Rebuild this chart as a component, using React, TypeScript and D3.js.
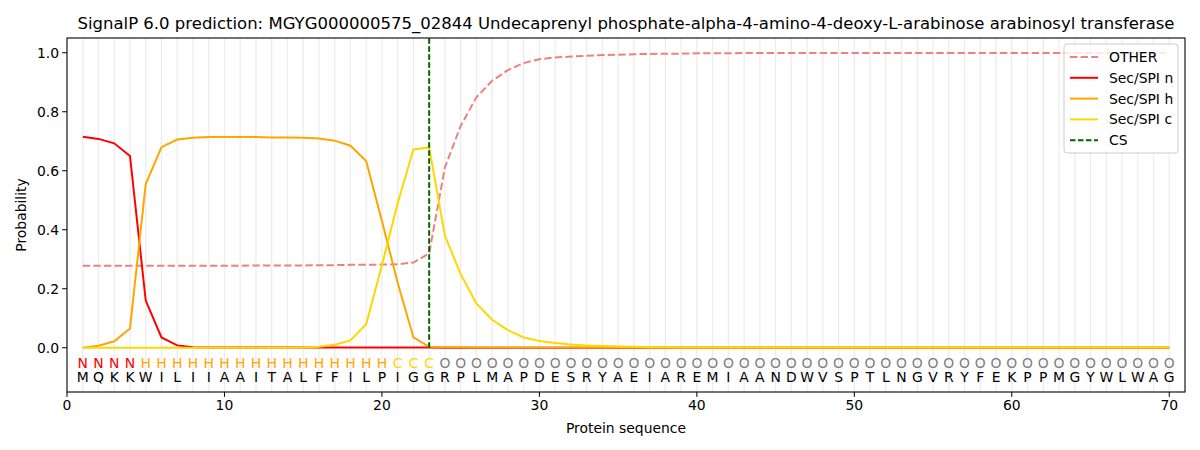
import React from "react";
import * as d3 from "d3";

const sequence = "MQKKWILIIAAITALFFILPIGGRPLMAPDESRYAEIAREMIAANDWVSPTLNGVRYFEKPPMGYWLWAG".split("");
const stateLabels = ("NNNN" + "H".repeat(16) + "CCC" + "O".repeat(47)).split("");

const otherVals = [
  0.278, 0.278, 0.278, 0.278, 0.278, 0.278, 0.278, 0.278, 0.278, 0.278,
  0.278, 0.279, 0.279, 0.279, 0.279, 0.280, 0.280, 0.281, 0.281, 0.282,
  0.283, 0.289, 0.320, 0.611, 0.752, 0.849, 0.905, 0.941, 0.965, 0.978,
  0.984, 0.987, 0.990, 0.992, 0.993, 0.995, 0.996, 0.997, 0.997, 0.998,
  0.998, 0.998, 0.999, 0.999, 0.999, 0.999, 0.999, 0.999, 0.999, 0.999,
  0.999, 0.999, 0.999, 0.999, 0.999, 0.999, 0.999, 0.999, 0.999, 0.999,
  0.999, 0.999, 0.999, 0.999, 0.999, 0.999, 0.999, 0.999, 0.999, 0.999,
];
const secN = [
  0.715, 0.708, 0.693, 0.650, 0.160, 0.035, 0.008, 0.002, 0.001, 0.001,
  0.001, 0.001, 0.001, 0.001, 0.001, 0.001, 0.001, 0.001, 0.001, 0.001,
  0.001, 0.001, 0.001, 0, 0, 0, 0, 0, 0, 0,
  0, 0, 0, 0, 0, 0, 0, 0, 0, 0,
  0, 0, 0, 0, 0, 0, 0, 0, 0, 0,
  0, 0, 0, 0, 0, 0, 0, 0, 0, 0,
  0, 0, 0, 0, 0, 0, 0, 0, 0, 0,
];
const secH = [
  0.0, 0.007, 0.022, 0.065, 0.555, 0.680, 0.706, 0.712, 0.714, 0.714,
  0.714, 0.714, 0.713, 0.713, 0.712, 0.709, 0.702, 0.685, 0.633, 0.430,
  0.220, 0.035, 0.003, 0.002, 0.002, 0.001, 0.001, 0.001, 0.001, 0.001,
  0.001, 0.001, 0.001, 0.001, 0.001, 0.001, 0.001, 0.001, 0.001, 0.001,
  0.001, 0.001, 0.001, 0.001, 0.001, 0.001, 0.001, 0.001, 0.001, 0.001,
  0.001, 0.001, 0.001, 0.001, 0.001, 0.001, 0.001, 0.001, 0.001, 0.001,
  0.001, 0.001, 0.001, 0.001, 0.001, 0.001, 0.001, 0.001, 0.001, 0.001,
];
const secC = [
  0, 0, 0, 0, 0, 0, 0, 0, 0, 0,
  0, 0, 0, 0, 0.001, 0.003, 0.010, 0.025, 0.080, 0.280,
  0.490, 0.672, 0.679, 0.380, 0.250, 0.150, 0.095, 0.060, 0.035, 0.023,
  0.016, 0.011, 0.008, 0.006, 0.004, 0.003, 0.002, 0.002, 0.001, 0.001,
  0.001, 0.001, 0.001, 0.001, 0.001, 0.001, 0.001, 0.001, 0.001, 0.001,
  0.001, 0.001, 0.001, 0.001, 0.001, 0.001, 0.001, 0.001, 0.001, 0.001,
  0.001, 0.001, 0.001, 0.001, 0.001, 0.001, 0.001, 0.001, 0.001, 0.001,
];
const csPos = 23;
const xTicks = [0, 10, 20, 30, 40, 50, 60, 70];
const yTicks = [0, 0.2, 0.4, 0.6, 0.8, 1.0];

const labelColor: Record<string, string> = { N: "red", H: "orange", C: "gold", O: "gray" };

const series = [
  { name: "OTHER", values: otherVals, color: "#f08080", dash: "7.4,3.2" },
  { name: "Sec/SPI n", values: secN, color: "red", dash: "" },
  { name: "Sec/SPI h", values: secH, color: "orange", dash: "" },
  { name: "Sec/SPI c", values: secC, color: "gold", dash: "" },
];

export default function App() {
  const W = 1200, H = 450;
  const left = 67, right = 1185, top = 38, bottom = 392;
  const x = d3.scaleLinear().domain([0, 71]).range([left, right]);
  const y = d3.scaleLinear().domain([-0.15, 1.05]).range([bottom, top]);
  const font = "DejaVu Sans, sans-serif";
  const line = (vals: number[]) =>
    d3.line<number>().x((_, i) => x(i + 1)).y((v) => y(v))(vals) || "";
  const positions = d3.range(1, sequence.length + 1);

  const legendItems = [
    ...series.map((s) => ({ name: s.name, color: s.color, dash: s.dash })),
    { name: "CS", color: "darkgreen", dash: "5.5,2.5" },
  ];
  const lx = 1064, ly = 44;

  return (
    <svg width={W} height={H} style={{ position: "absolute", left: 0, top: 0, background: "white" }} fontFamily={font}>
      <rect x={0} y={0} width={W} height={H} fill="white" />
      <text x={(left + right) / 2} y={29} textAnchor="middle" fontSize={16.5} fill="#000">
        SignalP 6.0 prediction: MGYG000000575_02844 Undecaprenyl phosphate-alpha-4-amino-4-deoxy-L-arabinose arabinosyl transferase
      </text>
      {positions.map((p) => (
        <line key={"g" + p} x1={x(p)} x2={x(p)} y1={top} y2={bottom} stroke="#ededed" strokeWidth={1.3} />
      ))}
      {series.map((s) => (
        <path key={s.name} d={line(s.values)} fill="none" stroke={s.color} strokeWidth={2} strokeDasharray={s.dash || undefined} />
      ))}
      <line x1={x(csPos)} x2={x(csPos)} y1={y(0)} y2={top} stroke="darkgreen" strokeWidth={2} strokeDasharray="5.5,2.5" />
      {positions.map((p, i) => (
        <g key={"s" + p}>
          <text x={x(p)} y={y(-0.05)} dy="0.36em" textAnchor="middle" fontSize={13.9} fill={labelColor[stateLabels[i]]}>
            {stateLabels[i]}
          </text>
          <text x={x(p)} y={y(-0.1)} dy="0.36em" textAnchor="middle" fontSize={13.9} fill="#000">
            {sequence[i]}
          </text>
        </g>
      ))}
      <rect x={left} y={top} width={right - left} height={bottom - top} fill="none" stroke="#000" strokeWidth={1.1} />
      {xTicks.map((t) => (
        <g key={"xt" + t}>
          <line x1={x(t)} x2={x(t)} y1={bottom} y2={bottom + 4.9} stroke="#000" strokeWidth={1} />
          <text x={x(t)} y={bottom + 18} textAnchor="middle" fontSize={13.9} fill="#000">{t}</text>
        </g>
      ))}
      {yTicks.map((t) => (
        <g key={"yt" + t}>
          <line x1={left - 4.9} x2={left} y1={y(t)} y2={y(t)} stroke="#000" strokeWidth={1} />
          <text x={left - 8} y={y(t)} dy="0.36em" textAnchor="end" fontSize={13.9} fill="#000">{t.toFixed(1)}</text>
        </g>
      ))}
      <text x={(left + right) / 2} y={433} textAnchor="middle" fontSize={13.9} fill="#000">Protein sequence</text>
      <text transform={`translate(26,${(top + bottom) / 2}) rotate(-90)`} textAnchor="middle" fontSize={13.9} fill="#000">Probability</text>
      <rect x={lx} y={ly} width={114} height={109} rx={3} fill="white" fillOpacity={0.8} stroke="#cccccc" strokeWidth={1} />
      {legendItems.map((it, i) => {
        const cy = ly + 13 + i * 20.8;
        return (
          <g key={it.name}>
            <line x1={lx + 6} x2={lx + 34} y1={cy} y2={cy} stroke={it.color} strokeWidth={2} strokeDasharray={it.dash || undefined} />
            <text x={lx + 45} y={cy} dy="0.36em" fontSize={13.9} fill="#000">{it.name}</text>
          </g>
        );
      })}
    </svg>
  );
}
